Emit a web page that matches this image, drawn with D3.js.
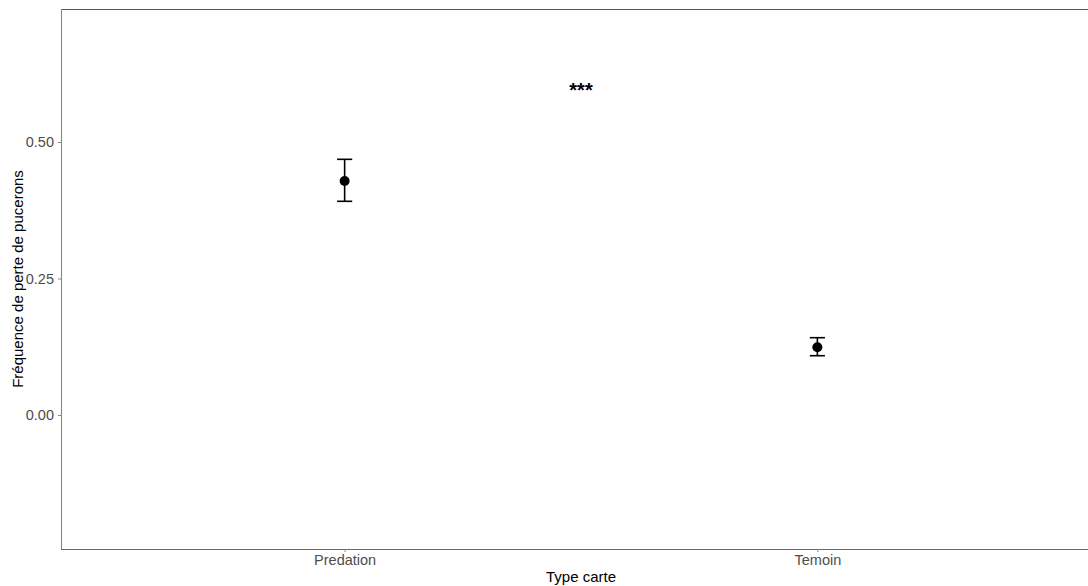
<!DOCTYPE html>
<html><head><meta charset="utf-8">
<script src="https://cdn.jsdelivr.net/npm/d3@7"></script>
<style>body{margin:0;background:#fff}svg{display:block;font-family:"Liberation Sans",Arial,sans-serif}</style>
</head><body><svg id="c" width="1088" height="586"></svg>
<script>
const categories = ["Predation", "Temoin"];
const means = [0.4286, 0.1240];
const lowers = [0.3914, 0.1086];
const uppers = [0.4683, 0.1416];
const yTicks = [0.00, 0.25, 0.50];
const signifLabel = "***";
const signifY = 0.6026;

const svg = d3.select("#c");
const L = 61, T = 9, B = 549;
const x = d3.scaleLinear().domain([0.4, 2.6]).range([L, 1101]);
const y = d3.scaleLinear().domain([-0.2454, 0.7436]).range([B, T]);

// panel border
svg.append("line").attr("x1", L).attr("x2", 1101).attr("y1", T + 0.5).attr("y2", T + 0.5).attr("stroke", "#555").attr("stroke-width", 1.1);
svg.append("line").attr("x1", L).attr("x2", 1101).attr("y1", B + 0.5).attr("y2", B + 0.5).attr("stroke", "#666").attr("stroke-width", 1.1);
svg.append("line").attr("x1", L + 0.5).attr("x2", L + 0.5).attr("y1", T).attr("y2", B).attr("stroke", "#888").attr("stroke-width", 1.1);

// y axis
const yAxis = d3.axisLeft(y).tickValues(yTicks).tickFormat(d3.format(".2f")).tickSize(3).tickPadding(4);
const gy = svg.append("g").attr("transform", `translate(${L},0)`).call(yAxis);
gy.select(".domain").remove();
gy.selectAll("line").attr("stroke", "#888");
gy.selectAll("text").attr("fill", "#4d4d4d").style("font-size", "14.5px").style("font-family", "'Liberation Sans',Arial,sans-serif");

// x axis
const xAxis = d3.axisBottom(x).tickValues([1, 2]).tickFormat((d) => categories[d - 1]).tickSize(3).tickPadding(3);
const gx = svg.append("g").attr("transform", `translate(0,${B})`).call(xAxis);
gx.select(".domain").remove();
gx.selectAll("line").attr("stroke", "#888");
gx.selectAll("text").attr("fill", "#4d4d4d").style("font-size", "14.5px").style("font-family", "'Liberation Sans',Arial,sans-serif");

// error bars
const data = categories.map((c, i) => ({ i: i + 1, m: means[i], lo: lowers[i], hi: uppers[i] }));
const capHalf = 0.016;
const g = svg.append("g");
data.forEach(d => {
  g.append("line").attr("x1", x(d.i)).attr("x2", x(d.i)).attr("y1", y(d.lo)).attr("y2", y(d.hi)).attr("stroke", "#000").attr("stroke-width", 1.6);
  g.append("line").attr("x1", x(d.i - capHalf)).attr("x2", x(d.i + capHalf)).attr("y1", y(d.hi)).attr("y2", y(d.hi)).attr("stroke", "#000").attr("stroke-width", 1.6);
  g.append("line").attr("x1", x(d.i - capHalf)).attr("x2", x(d.i + capHalf)).attr("y1", y(d.lo)).attr("y2", y(d.lo)).attr("stroke", "#000").attr("stroke-width", 1.6);
  g.append("circle").attr("cx", x(d.i)).attr("cy", y(d.m)).attr("r", 5).attr("fill", "#000");
});

// significance
svg.append("text").attr("x", x(1.5)).attr("y", y(signifY)).attr("text-anchor", "middle").attr("dy", "0.55em")
  .style("font-size", "20px").style("font-weight", "bold").attr("fill", "#000").text(signifLabel);

// axis titles
svg.append("text").attr("x", x(1.5)).attr("y", 582).attr("text-anchor", "middle").style("font-size", "15px").attr("fill", "#000").text("Type carte");
svg.append("text").attr("transform", `translate(23,${(T + B) / 2}) rotate(-90)`).attr("text-anchor", "middle").style("font-size", "15px").attr("fill", "#000").text("Fréquence de perte de pucerons");
</script></body></html>
